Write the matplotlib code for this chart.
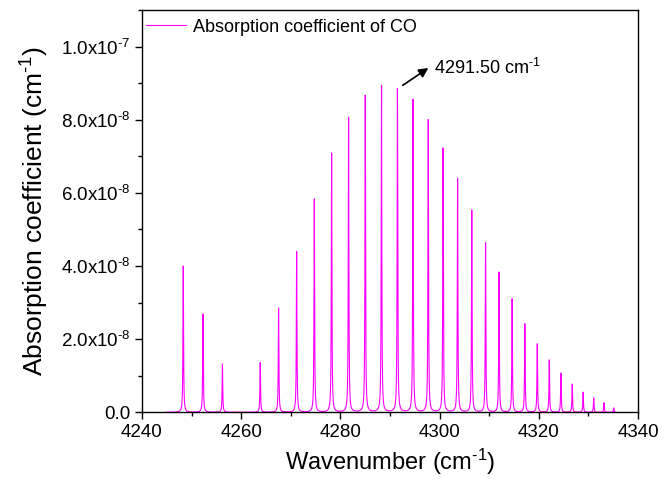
import numpy as np
import matplotlib
matplotlib.use("Agg")
import matplotlib.pyplot as plt
from matplotlib.ticker import MultipleLocator, FuncFormatter

plt.rcParams['font.family'] = ['Liberation Sans', 'DejaVu Sans']
plt.rcParams['mathtext.fontset'] = 'custom'
plt.rcParams['mathtext.rm'] = 'Liberation Sans'
plt.rcParams['mathtext.it'] = 'Liberation Sans:italic'

# line centres (cm-1) and peak heights (cm-1)
lineCentres = [4248.32, 4252.30, 4256.22,
               4263.84, 4267.54, 4271.18, 4274.74, 4278.23, 4281.65, 4285.01,
               4288.29, 4291.50, 4294.64, 4297.71, 4300.70, 4303.63, 4306.49,
               4309.27, 4311.98, 4314.62, 4317.19, 4319.69, 4322.11, 4324.46,
               4326.74, 4328.94, 4331.07, 4333.13, 4335.11]
peakHeights = [4.00e-8, 2.69e-8, 1.32e-8,
               1.36e-8, 2.85e-8, 4.39e-8, 5.83e-8, 7.09e-8, 8.07e-8, 8.67e-8,
               8.94e-8, 8.85e-8, 8.55e-8, 8.00e-8, 7.22e-8, 6.40e-8, 5.53e-8,
               4.64e-8, 3.83e-8, 3.10e-8, 2.42e-8, 1.87e-8, 1.43e-8, 1.07e-8,
               0.77e-8, 0.55e-8, 0.39e-8, 0.26e-8, 0.12e-8]
xStart, xEnd = 4245.0, 4335.5
halfWidth = 0.07  # Lorentzian HWHM, cm-1


def spectrum(x):
    y = np.zeros_like(x)
    for c, h in zip(lineCentres, peakHeights):
        y += h * halfWidth**2 / ((x - c)**2 + halfWidth**2)
    return y


wn = np.arange(xStart, xEnd, 0.004)
absCoef = spectrum(wn)

fig = plt.figure(figsize=(6.65, 4.83), dpi=100)
ax = fig.add_axes([0.2135, 0.1464, 0.7459, 0.8326])

ax.plot(wn, absCoef, color='#ff00ff', lw=0.8, label='Absorption coefficient of CO')

ax.set_xlim(4240, 4340)
ax.set_ylim(0, 1.1e-7)
ax.xaxis.set_major_locator(MultipleLocator(20))
ax.xaxis.set_minor_locator(MultipleLocator(10))
ax.yaxis.set_major_locator(MultipleLocator(2e-8))
ax.yaxis.set_minor_locator(MultipleLocator(1e-8))

SUP = r'$^{\text{-}%s}$'


def sciFmt(v, pos):
    if abs(v) < 1e-20:
        return '0.0'
    exp = int(np.floor(np.log10(abs(v))))
    mant = v / 10**exp
    return '%.1fx10' % mant + SUP % (-exp)


ax.yaxis.set_major_formatter(FuncFormatter(sciFmt))
ax.tick_params(which='both', direction='out', top=False, right=False, labelsize=13.5)
ax.tick_params(which='major', length=5, width=1)
ax.tick_params(which='minor', length=3, width=1)
for s in ax.spines.values():
    s.set_linewidth(1)

ax.set_xlabel('Wavenumber (cm' + SUP % '1' + ')', fontsize=17)
ax.set_ylabel('Absorption coefficient (cm' + SUP % '1' + ')', fontsize=19, labelpad=7)

ax.legend(loc='upper left', bbox_to_anchor=(0.0, 0.99), frameon=False, fontsize=13,
          handlelength=2.2, borderpad=0.1, borderaxespad=0.15, handletextpad=0.35)

ax.annotate('', xy=(4298.2, 9.46e-8), xytext=(4292.1, 8.9e-8),
            arrowprops=dict(arrowstyle='-|>', color='black', lw=1.2, mutation_scale=14))
ax.text(4298.9, 9.42e-8, '4291.50 cm' + SUP % '1', fontsize=13, va='center', ha='left')

fig.savefig('out.png', dpi=100)
